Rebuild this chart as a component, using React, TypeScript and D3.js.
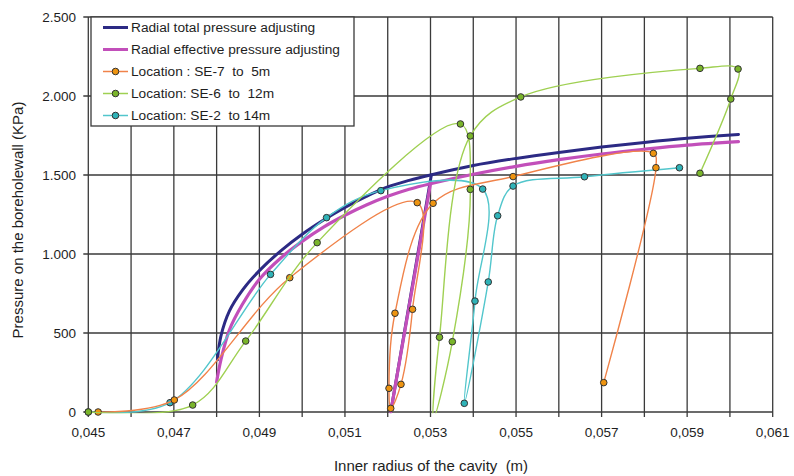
import React from 'react';
import * as d3 from 'd3';

type P = [number, number];

// ---- axis ticks ----
const xGridValues = [0.045, 0.046, 0.047, 0.048, 0.049, 0.05, 0.051, 0.052, 0.053, 0.054, 0.055, 0.056, 0.057, 0.058, 0.059, 0.06, 0.061];
const xTickValues = [0.045, 0.047, 0.049, 0.051, 0.053, 0.055, 0.057, 0.059, 0.061];
const xTickLabels = ['0,045', '0,047', '0,049', '0,051', '0,053', '0,055', '0,057', '0,059', '0,061'];
const yTickValues = [0, 500, 1000, 1500, 2000, 2500];
const yTickLabels = ['0', '500', '1.000', '1.500', '2.000', '2.500'];

// ---- series ----
const totalPressure: P[] = [
  [0.04802, 330], [0.0481, 480], [0.0483, 640], [0.0486, 770], [0.049, 895], [0.0495, 1020],
  [0.05, 1125], [0.0505, 1215], [0.051, 1295], [0.0515, 1365], [0.052, 1425], [0.0525, 1466], [0.053, 1500],
  [0.054, 1560], [0.055, 1605], [0.056, 1643], [0.057, 1677], [0.058, 1706], [0.059, 1732], [0.0602, 1757],
];
const totalPressureUnload: P[] = [[0.05207, 0], [0.05302, 1500]];

const effectivePressure: P[] = [
  [0.048, 190], [0.0481, 330], [0.0483, 520], [0.0486, 680], [0.049, 840], [0.0495, 975],
  [0.05, 1080], [0.0505, 1170], [0.051, 1245], [0.0515, 1310], [0.052, 1365], [0.0525, 1410], [0.053, 1445],
  [0.054, 1505], [0.055, 1555], [0.056, 1597], [0.057, 1633], [0.058, 1663], [0.059, 1689], [0.0602, 1711],
];
const effectivePressureUnload: P[] = [[0.05207, 0], [0.053, 1445]];

const se7: P[] = [
  [0.04523, 0], [0.04701, 76], [0.04971, 850], [0.05269, 1325], [0.05258, 650], [0.05231, 175],
  [0.05207, 23], [0.05203, 150], [0.05217, 625], [0.05306, 1321], [0.05493, 1490], [0.05821, 1637],
  [0.05827, 1546], [0.05705, 186],
];
const se6: P[] = [
  [0.045, 0], [0.04744, 44], [0.04868, 449], [0.05035, 1072], [0.0537, 1823], [0.05393, 1409],
  [0.05351, 445], [0.05307, -40], [0.05321, 473], [0.05393, 1747], [0.05511, 1994], [0.0593, 2175],
  [0.06019, 2171], [0.06002, 1981], [0.0593, 1511],
];
const se2: P[] = [
  [0.045, 0], [0.04691, 59], [0.04926, 871], [0.05057, 1230], [0.05184, 1401], [0.05422, 1411],
  [0.05404, 702], [0.05379, 55], [0.05435, 823], [0.05457, 1242], [0.05493, 1430], [0.0566, 1489],
  [0.05882, 1546],
];

const legendLabels = [
  'Radial total pressure adjusting',
  'Radial effective pressure adjusting',
  'Location : SE-7  to  5m',
  'Location: SE-6  to  12m',
  'Location: SE-2  to 14m',
];

const C = {
  total: '#2c2a84',
  eff: '#c24fba',
  orangeLine: '#f0834a',
  orangeFill: '#ee9410',
  greenLine: '#9fd052',
  greenFill: '#7ab52a',
  tealLine: '#52c6cc',
  tealFill: '#2fb3b8',
  grid: '#3a3a3a',
  text: '#1e1e1e',
};

export default function App() {
  const W = 794;
  const H = 476;
  const x = d3.scaleLinear().domain([0.045, 0.061]).range([88.3, 772.7]);
  const y = d3.scaleLinear().domain([0, 2500]).range([412, 17]);
  const smooth = d3.line<P>().x((d) => x(d[0])).y((d) => y(d[1])).curve(d3.curveCatmullRom.alpha(0.5));
  const straight = d3.line<P>().x((d) => x(d[0])).y((d) => y(d[1]));

  const x0 = x(0.045), x1 = x(0.061), y0 = y(0), y1 = y(2500);
  const font = "'Liberation Sans', Arial, sans-serif";

  const dataSeries = [
    { data: se2, line: C.tealLine, fill: C.tealFill },
    { data: se7, line: C.orangeLine, fill: C.orangeFill },
    { data: se6, line: C.greenLine, fill: C.greenFill },
  ];

  const legendItems = [
    { label: legendLabels[0], line: C.total, w: 3, marker: null as string | null },
    { label: legendLabels[1], line: C.eff, w: 3, marker: null as string | null },
    { label: legendLabels[2], line: C.orangeLine, w: 1.5, marker: C.orangeFill },
    { label: legendLabels[3], line: C.greenLine, w: 1.5, marker: C.greenFill },
    { label: legendLabels[4], line: C.tealLine, w: 1.5, marker: C.tealFill },
  ];

  return (
    <svg width={W} height={H} style={{ position: 'absolute', left: 0, top: 0, background: '#fff' }} fontFamily={font}>
      <defs>
        <clipPath id="plotClip">
          <rect x={x0} y={y1} width={x1 - x0} height={y0 - y1 + 1.2} />
        </clipPath>
      </defs>
      <rect x={0} y={0} width={W} height={H} fill="#fff" />

      {/* grid */}
      {xGridValues.map((v, i) => (
        <line key={'gx' + i} x1={x(v)} x2={x(v)} y1={y1} y2={y0 + 5} stroke={C.grid} strokeWidth={1.3} />
      ))}
      {yTickValues.map((v, i) => (
        <line key={'gy' + i} x1={x0 - 5} x2={x1} y1={y(v)} y2={y(v)} stroke={C.grid} strokeWidth={1.3} />
      ))}

      {/* tick labels */}
      {yTickValues.map((v, i) => (
        <text key={'ty' + i} x={76} y={y(v)} dy="0.36em" textAnchor="end" fontSize={13.5} fill={C.text}>
          {yTickLabels[i]}
        </text>
      ))}
      {xTickValues.map((v, i) => (
        <text key={'tx' + i} x={x(v)} y={437} textAnchor="middle" fontSize={13.5} fill={C.text}>
          {xTickLabels[i]}
        </text>
      ))}

      {/* axis titles */}
      <text x={431} y={471} textAnchor="middle" fontSize={15} fill={C.text} style={{ whiteSpace: 'pre' }}>
        {'Inner radius of the cavity  (m)'}
      </text>
      <text transform={`translate(23,220) rotate(-90)`} textAnchor="middle" fontSize={15} fill={C.text}>
        Pressure on the boreholewall (KPa)
      </text>

      {/* theoretical curves */}
      <g clipPath="url(#plotClip)" fill="none" strokeLinejoin="round" strokeLinecap="round">
        <path d={smooth(totalPressure) || ''} stroke={C.total} strokeWidth={3} />
        <path d={straight(totalPressureUnload) || ''} stroke={C.total} strokeWidth={3} />
        <path d={smooth(effectivePressure) || ''} stroke={C.eff} strokeWidth={3.2} />
        <path d={straight(effectivePressureUnload) || ''} stroke={C.eff} strokeWidth={3.2} />
      </g>

      {/* measured series */}
      {dataSeries.map((s, i) => (
        <g key={'s' + i}>
          <path d={smooth(s.data) || ''} fill="none" stroke={s.line} strokeWidth={1.4} clipPath="url(#plotClip)" />
          {s.data.filter((d) => d[1] >= 0).map((d, j) => (
            <circle key={j} cx={x(d[0])} cy={y(d[1])} r={3.3} fill={s.fill} stroke="#333" strokeWidth={1} />
          ))}
        </g>
      ))}

      {/* legend */}
      <rect x={91} y={17} width={263} height={109} fill="#fff" stroke={C.grid} strokeWidth={1.3} />
      {legendItems.map((it, i) => {
        const ly = 27.5 + i * 22;
        return (
          <g key={'l' + i}>
            <line x1={103} x2={128} y1={ly} y2={ly} stroke={it.line} strokeWidth={it.w} />
            {it.marker && <circle cx={115.5} cy={ly} r={3.3} fill={it.marker} stroke="#333" strokeWidth={1} />}
            <text x={131} y={ly} dy="0.36em" fontSize={13.7} fill={C.text} style={{ whiteSpace: 'pre' }}>
              {it.label}
            </text>
          </g>
        );
      })}
    </svg>
  );
}
